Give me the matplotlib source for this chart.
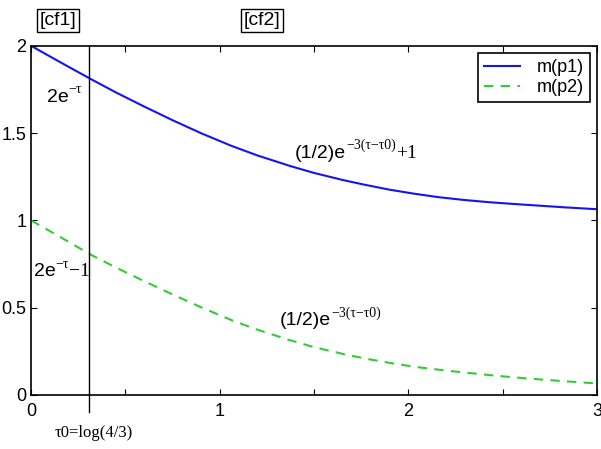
import matplotlib
matplotlib.use('Agg')
import matplotlib.pyplot as plt

plt.rcParams['font.family'] = ['Liberation Sans', 'DejaVu Sans']
plt.rcParams['mathtext.fontset'] = 'stix'

# values
tau = [0, 0.15, 0.318, 0.45, 0.6, 0.75, 0.9, 1.06, 1.2, 1.378, 1.5, 1.65,
       1.765, 1.9, 2.03, 2.16, 2.295, 2.43, 2.56, 2.7, 2.825, 3.0]
m_p1 = [2.0, 1.909, 1.809, 1.733, 1.652, 1.574, 1.500, 1.428, 1.372, 1.310,
        1.272, 1.232, 1.205, 1.176, 1.153, 1.133, 1.117, 1.104, 1.094, 1.084,
        1.075, 1.064]
m_p2 = [1.0, 0.908, 0.803, 0.730, 0.652, 0.576, 0.503, 0.430, 0.374, 0.312,
        0.274, 0.236, 0.210, 0.184, 0.162, 0.145, 0.129, 0.114, 0.101, 0.089,
        0.079, 0.066]
tau0 = 0.31
xticks = [0, 0.5, 1, 1.5, 2, 2.5, 3]
xticklabels = ['0', '', '1', '', '2', '', '3']
yticks = [0, 0.5, 1, 1.5, 2]
yticklabels = ['0', '0.5', '1', '1.5', '2']

fig = plt.figure(figsize=(6.01, 4.49), dpi=100)
ax = fig.add_axes([0.0516, 0.1203, 0.9417, 0.7777])

ax.plot(tau, m_p1, color='#1414ee', lw=1.5, label='m(p1)')
ax.plot(tau, m_p2, color='#33cc33', lw=1.5, ls=(0, (4.5, 3.5)), label='m(p2)')
ax.plot([tau0, tau0], [-0.095, 2], color='black', lw=1, clip_on=False)

ax.set_xlim(0, 3)
ax.set_ylim(0, 2)
ax.set_xticks(xticks)
ax.set_xticklabels(xticklabels)
ax.set_yticks(yticks)
ax.set_yticklabels(yticklabels)
ax.tick_params(direction='in', top=True, right=True, labelsize=13, length=4)
ax.tick_params(axis='x', pad=6)
for s in ax.spines.values():
    s.set_linewidth(1.2)


def formula(x, y, base, sup, tail=''):
    # sans base, small serif superscript, serif tail
    t = ax.text(x, y, base, fontsize=14, va='center')
    s = ax.annotate(sup, xy=(1.0, 0.95), xycoords=t, fontsize=10,
                    family='Liberation Serif', va='center', ha='left')
    if tail:
        ax.annotate(tail, xy=(1.0, 0.5), xycoords=(s, t), fontsize=14,
                    family='Liberation Serif', va='center', ha='left')


formula(0.085, 1.706, '2e', '\u2212\u03c4')
formula(1.399, 1.385, '(1/2)e', '\u22123(\u03c4\u2212\u03c40)', '+1')
formula(0.016, 0.706, '2e', '\u2212\u03c4', '\u22121')
formula(1.32, 0.424, '(1/2)e', '\u22123(\u03c4\u2212\u03c40)')

ax.text(0.127, -0.217, '\u03c40=log(4/3)', fontsize=12, va='center',
        family='Liberation Serif', clip_on=False)

box = dict(boxstyle='square,pad=0.15', fc='white', ec='black', lw=1)
ax.text(0.143, 2.146, '[cf1]', fontsize=14, ha='center', va='center', bbox=box)
ax.text(1.224, 2.146, '[cf2]', fontsize=14, ha='center', va='center', bbox=box)

leg = ax.legend(loc='upper right', fontsize=13, fancybox=False, edgecolor='black',
                framealpha=1, borderaxespad=0.4, handlelength=2.0,
                handletextpad=0.9, labelspacing=0.15, borderpad=0.35)
leg.get_frame().set_linewidth(1.2)

fig.savefig('out.png', dpi=100)
